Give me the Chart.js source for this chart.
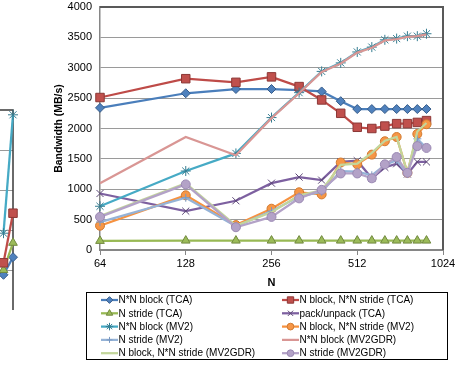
<!DOCTYPE html>
<html>
<head>
<meta charset="utf-8">
<script src="https://cdn.jsdelivr.net/npm/chart.js@4.4.1/dist/chart.umd.min.js"></script>
<style>
    body { margin: 0; background: #fff; }
    #wrap { position: relative; width: 467px; height: 367px; overflow: hidden; }
    #main { position: absolute; left: 0; top: 0; }
    #side { position: absolute; left: -13px; top: 0; }
</style>
</head>
<body>
<div id="wrap">
    <canvas id="main" width="467" height="367"></canvas>
    <canvas id="side" width="34" height="367"></canvas>
</div>
<script>
// matrix size N (x axis, log2)
const sizes = [64, 128, 192, 256, 320, 384, 448, 512, 576, 640, 704, 768, 832, 896];
const xTicks = [64, 128, 256, 512, 1024];

// bandwidth in MB/s
const blockTCA       = [2340, 2580, 2650, 2650, 2630, 2610, 2450, 2320, 2320, 2320, 2320, 2320, 2320, 2320];
const blockStrideTCA = [2510, 2820, 2760, 2850, 2690, 2470, 2250, 2020, 2000, 2040, 2080, 2080, 2100, 2130];
const strideTCA      = [150, 155, 155, 155, 155, 155, 155, 155, 155, 155, 155, 155, 155, 155];
const packTCA        = [930, 640, 810, 1100, 1200, 1150, 1450, 1470, 1180, 1360, 1420, 1250, 1450, 1450];
const blockMV2       = [720, 1300, 1590, 2180, 2590, 2940, 3080, 3260, 3340, 3460, 3480, 3520, 3520, 3560];
const blockStrideMV2 = [400, 900, 410, 680, 950, 915, 1440, 1410, 1570, 1790, 1860, 1270, 1910, 2070];
const strideMV2      = [460, 860, 390, 640, 880, 960, 1300, 1290, 1230, 1400, 1480, 1250, 1830, 1680];
const blockGDR       = [1100, 1860, 1560, 2170, 2580, 2930, 3070, 3250, 3330, 3450, 3470, 3510, 3520, 3550];
const blockStrideGDR = [560, 1100, 400, 620, 900, 980, 1400, 1420, 1600, 1800, 1860, 1270, 1950, 2090];
const strideGDR      = [545, 1080, 375, 545, 850, 990, 1260, 1260, 1180, 1410, 1530, 1270, 1710, 1680];

// the neighbouring chart that is cut off at the left edge
const sidePos   = [1, 2];
const sideTicks = [0, 500, 1000, 1500, 2000, 2500];
const sideMV2   = [960, 2440];
const sideRed   = [590, 1210];
const sideGreen = [500, 840];
const sideBlue  = [440, 660];

Chart.defaults.font.family = '"Liberation Sans", Arial, sans-serif';
Chart.defaults.font.size = 11;
Chart.defaults.color = '#000';

const toPoints = (xs, vals) => vals.map((v, i) => ({ x: xs[i], y: v }));

function series(label, vals, line, style, fill, edge, radius) {
    return {
        label: label,
        data: toPoints(sizes, vals),
        borderColor: line,
        borderWidth: 2.25,
        pointStyle: style || false,
        pointRadius: style ? radius : 0,
        pointBackgroundColor: fill,
        pointBorderColor: edge,
        pointBorderWidth: 1,
        tension: 0,
        clip: false
    };
}

const datasets = [
    series('N*N block (TCA)', blockTCA, '#4A7EBB', 'rectRot', '#4F81BD', '#385D8A', 4.5),
    series('N block, N*N stride (TCA)', blockStrideTCA, '#BE4B48', 'rect', '#C0504D', '#8C3836', 6),
    series('N stride (TCA)', strideTCA, '#98B954', 'triangle', '#9BBB59', '#71893F', 5),
    series('pack/unpack (TCA)', packTCA, '#7D60A0', 'crossRot', '#8064A2', '#5C4776', 5),
    series('N*N block (MV2)', blockMV2, '#46AAC5', 'star', '#4BACC6', '#357D91', 5),
    series('N block, N*N stride (MV2)', blockStrideMV2, '#F69240', 'circle', '#F79646', '#D07A30', 4.5),
    series('N stride (MV2)', strideMV2, '#95B3D7', 'cross', '#95B3D7', '#7A98C0', 4),
    series('N*N block (MV2GDR)', blockGDR, '#D99694', null, null, null, 0),
    series('N block, N*N stride (MV2GDR)', blockStrideGDR, '#C3D69B', null, null, null, 0),
    series('N stride (MV2GDR)', strideGDR, '#B3A2C7', 'circle', '#B3A2C7', '#9A88B3', 4.5)
];
// later series are painted over earlier ones, as in the spreadsheet
datasets.forEach((ds, i) => { ds.order = datasets.length - i; });

// dark frame on top and right of the plot area
const frame = {
    id: 'frame',
    afterDraw(chart) {
        const { ctx, chartArea: a } = chart;
        ctx.save();
        ctx.strokeStyle = '#595959';
        ctx.lineWidth = 2;
        ctx.beginPath();
        ctx.moveTo(a.left, a.top);
        ctx.lineTo(a.right, a.top);
        ctx.lineTo(a.right, a.bottom);
        ctx.stroke();
        ctx.restore();
    }
};

// gridlines and frame for the cut-off chart, placed from its own scales
const sideFrame = {
    id: 'sideFrame',
    beforeDatasetsDraw(chart) {
        const { ctx, scales: { x, y } } = chart;
        const right = x.getPixelForValue(sidePos[1]);
        const top = y.getPixelForValue(sideTicks[sideTicks.length - 1]);
        const bottom = y.getPixelForValue(sideTicks[0]);
        ctx.save();
        ctx.strokeStyle = '#9A9A9A';
        ctx.lineWidth = 1;
        sideTicks.slice(1, -1).forEach(v => {
            const py = Math.round(y.getPixelForValue(v)) + 0.5;
            ctx.beginPath();
            ctx.moveTo(0, py);
            ctx.lineTo(right, py);
            ctx.stroke();
        });
        ctx.strokeStyle = '#3A3A3A';
        ctx.lineWidth = 1.5;
        ctx.beginPath();
        ctx.moveTo(0, top);
        ctx.lineTo(right, top);
        ctx.lineTo(right, bottom);
        ctx.stroke();
        ctx.restore();
    }
};

// two-column boxed legend under the axis
const boxLegend = {
    id: 'boxLegend',
    afterDraw(chart) {
        const ctx = chart.ctx;
        ctx.save();
        ctx.strokeStyle = '#000';
        ctx.lineWidth = 1;
        ctx.strokeRect(86.5, 292.5, 361, 67);
        ctx.font = '10px "Liberation Sans", Arial, sans-serif';
        ctx.textBaseline = 'middle';
        chart.data.datasets.forEach((ds, i) => {
            const x = i % 2 === 0 ? 101 : 282;
            const y = 300 + Math.floor(i / 2) * 13.3;
            ctx.strokeStyle = ds.borderColor;
            ctx.lineWidth = 2.25;
            ctx.beginPath();
            ctx.moveTo(x, y);
            ctx.lineTo(x + 17, y);
            ctx.stroke();
            if (ds.pointStyle) {
                ctx.fillStyle = ds.pointBackgroundColor;
                ctx.strokeStyle = ds.pointBorderColor;
                ctx.lineWidth = 1;
                Chart.helpers.drawPoint(ctx, {
                    pointStyle: ds.pointStyle, rotation: 0,
                    radius: ds.pointRadius * 0.75, borderWidth: 1
                }, x + 8.5, y);
            }
            ctx.fillStyle = '#000';
            ctx.fillText(ds.label, x + 17.5, y + 0.5);
        });
        ctx.restore();
    }
};

new Chart(document.getElementById('main'), {
    type: 'line',
    data: { datasets: datasets },
    options: {
        responsive: false,
        animation: false,
        layout: { padding: { left: 0, right: 24, top: 0, bottom: 77 } },
        plugins: { legend: { display: false }, tooltip: { enabled: false } },
        scales: {
            x: {
                type: 'logarithmic',
                min: 64,
                max: 1024,
                afterBuildTicks: s => { s.ticks = xTicks.map(v => ({ value: v })); },
                afterFit: s => { s.height = 40; },
                ticks: { callback: v => String(v), autoSkip: false, maxRotation: 0, padding: 2 },
                grid: { drawOnChartArea: false, drawTicks: true, tickLength: 5, color: '#868686' },
                border: { color: '#868686', width: 2 },
                title: { display: true, text: 'N', font: { weight: 'bold' }, padding: { top: 0, bottom: 0 } }
            },
            y: {
                min: 0,
                max: 4000,
                afterFit: s => { s.width = 100; },
                ticks: { stepSize: 500, padding: 0, callback: v => String(v) },
                grid: { color: '#9A9A9A', drawTicks: true, tickLength: 8, tickColor: 'rgba(0,0,0,0)' },
                border: { color: '#868686', width: 1.5 },
                title: { display: true, text: 'Bandwidth (MB/s)', font: { size: 10.5, weight: 'bold' }, padding: { top: 53, bottom: 0 } }
            }
        }
    },
    plugins: [frame, boxLegend]
});

const sideSeries = (vals, line, style, fill, edge, radius) => ({
    data: toPoints(sidePos, vals),
    borderColor: line,
    borderWidth: 2.25,
    pointStyle: style,
    pointRadius: radius,
    pointBackgroundColor: fill,
    pointBorderColor: edge,
    pointBorderWidth: 1,
    clip: false
});

new Chart(document.getElementById('side'), {
    type: 'line',
    data: {
        datasets: [
            sideSeries(sideMV2, '#46AAC5', 'star', '#4BACC6', '#357D91', 5),
            sideSeries(sideRed, '#BE4B48', 'rect', '#C0504D', '#8C3836', 6),
            sideSeries(sideGreen, '#98B954', 'triangle', '#9BBB59', '#71893F', 5),
            sideSeries(sideBlue, '#4A7EBB', 'rectRot', '#4F81BD', '#385D8A', 4.5)
        ]
    },
    options: {
        responsive: false,
        animation: false,
        layout: { padding: { left: 0, right: 8, top: 110, bottom: 57 } },
        plugins: { legend: { display: false }, tooltip: { enabled: false } },
        scales: {
            x: { type: 'linear', min: 0, max: 2, display: false },
            y: { min: 0, max: 2500, display: false }
        }
    },
    plugins: [sideFrame]
});
</script>
</body>
</html>
